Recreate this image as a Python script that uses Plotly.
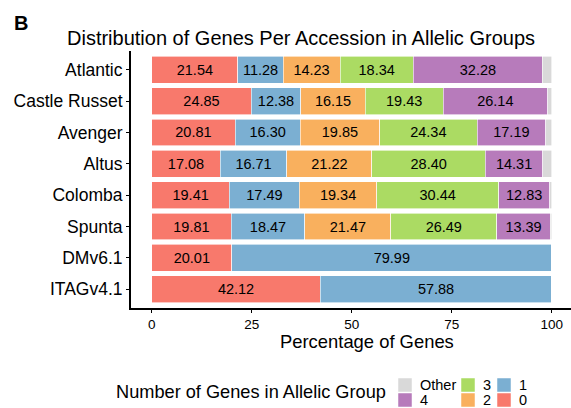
import plotly.graph_objects as go

accessions = ["Atlantic", "Castle Russet", "Avenger", "Altus", "Colomba", "Spunta", "DMv6.1", "ITAGv4.1"]
g0 = [21.54, 24.85, 20.81, 17.08, 19.41, 19.81, 20.01, 42.12]
g1 = [11.28, 12.38, 16.30, 16.71, 17.49, 18.47, 79.99, 57.88]
g2 = [14.23, 16.15, 19.85, 21.22, 19.34, 21.47, 0, 0]
g3 = [18.34, 19.43, 24.34, 28.40, 30.44, 26.49, 0, 0]
g4 = [32.28, 26.14, 17.19, 14.31, 12.83, 13.39, 0, 0]
other = [2.33, 1.05, 1.51, 2.28, 0.49, 0.37, 0, 0]

groups = ["0", "1", "2", "3", "4", "Other"]
series = [g0, g1, g2, g3, g4, other]
colors = ["#F8796C", "#7BAFD2", "#F9B05E", "#ABDB63", "#B77BBB", "#D9D9D9"]

FONT = "Liberation Sans, Arial, sans-serif"

fig = go.Figure()
for name, vals, col in zip(groups, series, colors):
    labels = ["" if (name == "Other" or v == 0) else f"{v:.2f}" for v in vals]
    fig.add_trace(go.Bar(
        y=accessions, x=vals, name=name, orientation="h",
        marker=dict(color=col, line=dict(color="white", width=0.6)),
        text=labels, textposition="inside", insidetextanchor="middle",
        textfont=dict(color="black", size=14.5, family=FONT),
        showlegend=False, hoverinfo="x+y",
    ))

fig.update_layout(
    barmode="stack", bargap=0.14,
    width=571, height=408,
    margin=dict(l=131, r=0, t=51, b=100),
    plot_bgcolor="white", paper_bgcolor="white",
    font=dict(family=FONT, color="black"),
    uniformtext=dict(mode="show", minsize=8),
)
fig.update_xaxes(
    range=[-5.2, 104.8], tickvals=[0, 25, 50, 75, 100],
    showline=True, linecolor="black", linewidth=2, mirror=False,
    ticks="outside", ticklen=3, tickcolor="black",
    tickfont=dict(size=13.5, color="black"), showgrid=False, zeroline=False,
)
fig.update_yaxes(
    categoryorder="array", categoryarray=accessions[::-1],
    range=[-0.6, 7.6],
    showline=True, linecolor="black", linewidth=2,
    ticks="outside", ticklen=3, tickcolor="black",
    tickfont=dict(size=17.5, color="black"), showgrid=False,
)


def px(x):
    return (x - 131) / 440


def py(y):
    return 1 - (y - 51) / 257


# panel tag, title and axis title
fig.add_annotation(text="<b>B</b>", xref="paper", yref="paper",
                   x=px(21), y=py(23), xanchor="center", yanchor="middle",
                   showarrow=False, font=dict(size=20))
fig.add_annotation(text="Distribution of Genes Per Accession in Allelic Groups",
                   xref="paper", yref="paper", x=px(301), y=py(38),
                   xanchor="center", yanchor="middle", showarrow=False,
                   font=dict(size=20))
fig.add_annotation(text="Percentage of Genes", xref="paper", yref="paper",
                   x=px(367), y=py(341), xanchor="center", yanchor="middle",
                   showarrow=False, font=dict(size=18.4))

# legend drawn as a 2x3 key grid
fig.add_annotation(text="Number of Genes in Allelic Group", xref="paper", yref="paper",
                   x=px(388), y=py(392), xanchor="right", yanchor="middle",
                   showarrow=False, font=dict(size=18.2))
legend_cells = [("Other", 398, 378), ("4", 398, 393), ("3", 461, 378),
                ("2", 461, 393), ("1", 497, 378), ("0", 497, 393)]
for name, lx, ly in legend_cells:
    col = colors[groups.index(name)]
    fig.add_shape(type="rect", xref="paper", yref="paper",
                  x0=px(lx), x1=px(lx + 14), y0=py(ly), y1=py(ly + 14),
                  fillcolor=col, line=dict(color="white", width=0.5))
    fig.add_annotation(text=name, xref="paper", yref="paper",
                       x=px(lx + 21), y=py(ly + 7), xanchor="left", yanchor="middle",
                       showarrow=False, borderpad=0, font=dict(size=14.5))

fig.write_html("out.html")
